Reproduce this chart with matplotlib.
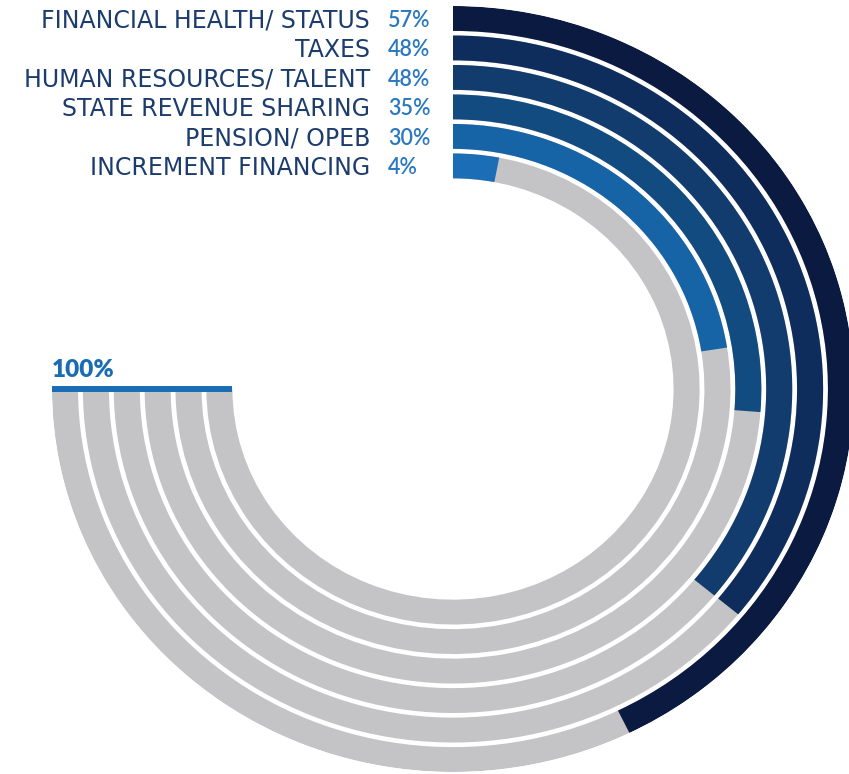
import numpy as np
import matplotlib
matplotlib.use("Agg")
import matplotlib.pyplot as plt

# ---- data ----
categories = ["FINANCIAL HEALTH/ STATUS", "TAXES", "HUMAN RESOURCES/ TALENT",
              "STATE REVENUE SHARING", "PENSION/ OPEB", "INCREMENT FINANCING"]
values = [57, 48, 48, 35, 30, 4]
pct_labels = ["57%", "48%", "48%", "35%", "30%", "4%"]
full_label = "100%"

ring_colors = ["#0b1a40", "#0e2d5c", "#113c6d", "#114b80", "#1663a6", "#1b6db5"]
track_color = "#c4c4c6"
label_color = "#1d3c6e"
pct_color = "#2a78c0"

W, H = 849, 774
fig = plt.figure(figsize=(W / 100, H / 100), dpi=100)
fig.patch.set_facecolor("white")

# axes box: centre (453, 389) px, x-radius 401, y-radius 383
cx, cy, rx, ry = 453, 389, 401, 383
ax = fig.add_axes([(cx - rx) / W, (H - cy - ry) / H, 2 * rx / W, 2 * ry / H],
                  projection="polar")
ax.set_aspect("auto")
ax.set_theta_zero_location("N")
ax.set_theta_direction(-1)
ax.set_ylim(0, 1)
ax.axis("off")

full_angle = 1.5 * np.pi
pitch = 0.077
thick = 0.065

for i, (cat, v, pl, col) in enumerate(zip(categories, values, pct_labels, ring_colors)):
    r_out = 1.0 - i * pitch
    r_in = r_out - thick
    ax.bar(0, thick, width=full_angle, bottom=r_in, align="edge",
           color=track_color, edgecolor="none", zorder=1)
    ax.bar(0, thick, width=full_angle * v / 100.0, bottom=r_in, align="edge",
           color=col, edgecolor="none", zorder=2)
    rc = r_in + thick / 2
    ax.annotate(cat, xy=(0, rc), xytext=(-83, -2), textcoords="offset pixels",
                ha="right", va="center", fontsize=17, color=label_color,
                family="DejaVu Sans", annotation_clip=False)
    ax.annotate(pl, xy=(0, rc), xytext=(-65, -2), textcoords="offset pixels",
                ha="left", va="center", fontsize=15.5, color=pct_color,
                family="Lato", fontweight="semibold", annotation_clip=False)

# 100% marker line and label
r_min = 1.0 - 5 * pitch - thick
ax.plot([1.5 * np.pi, 1.5 * np.pi], [r_min, 1.0], color="#1a6db5", lw=4.3,
        solid_capstyle="butt", zorder=3)
ax.annotate(full_label, xy=(1.5 * np.pi, 1.0), xytext=(0, 8), textcoords="offset pixels",
            ha="left", va="bottom", fontsize=17.5, fontweight="heavy", color="#1a6db5",
            family="Lato", annotation_clip=False)

fig.savefig("out.png", dpi=100, facecolor="white")
